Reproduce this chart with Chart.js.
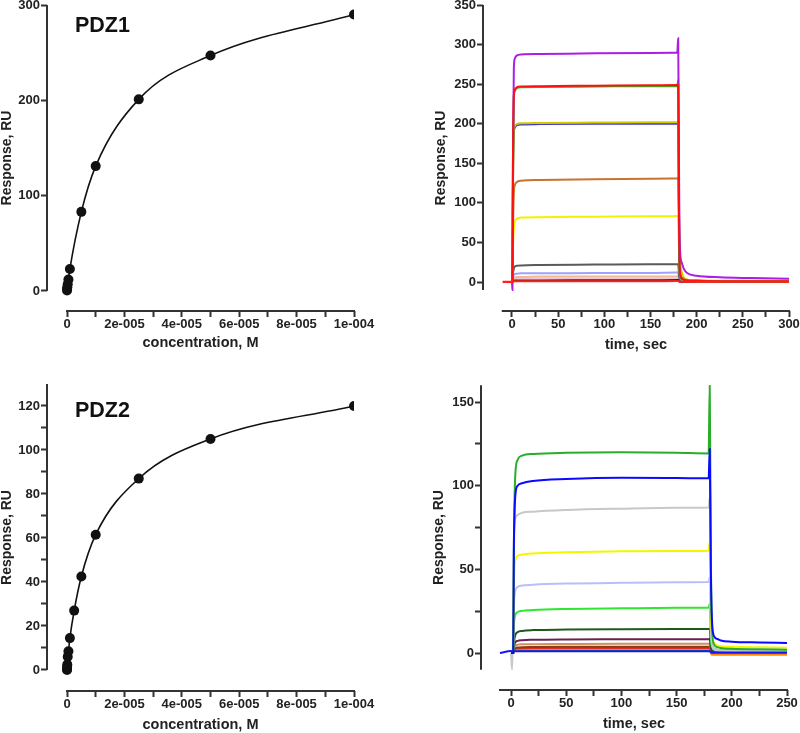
<!DOCTYPE html>
<html>
<head>
<meta charset="utf-8">
<title>PDZ1 / PDZ2 binding</title>
<script src="https://cdn.jsdelivr.net/npm/chart.js@4.4.1/dist/chart.umd.min.js"></script>
<style>
body{margin:0;background:#fff;}
#wrap{position:relative;width:800px;height:733px;font-family:"Liberation Sans",Arial,sans-serif;}
.panel{position:absolute;}
.panel canvas{display:block;}
.tag{position:absolute;font-weight:bold;font-size:21.5px;line-height:1;color:#111;}
</style>
</head>
<body>
<div id="wrap">
  <div class="panel" style="left:0;top:0"><canvas id="c1" width="400" height="366"></canvas></div>
  <div class="panel" style="left:400px;top:0"><canvas id="c2" width="400" height="366"></canvas></div>
  <div class="panel" style="left:0;top:366px"><canvas id="c3" width="400" height="367"></canvas></div>
  <div class="panel" style="left:400px;top:366px"><canvas id="c4" width="400" height="367"></canvas></div>
  <div class="tag" style="left:75px;top:15px">PDZ1</div>
  <div class="tag" style="left:75px;top:400px">PDZ2</div>
</div>
<script>
// binding curves (steady-state response vs concentration)
const pdz1Conc = [1e-8, 5e-8, 1e-7, 2.5e-7, 5e-7, 1e-6, 5e-6, 1e-5, 2.5e-5, 5e-5, 1e-4];
const pdz1Resp = [0.5, 2, 4, 7, 12, 23, 83, 131, 201, 247, 290];
const pdz2Conc = [1e-8, 2.5e-8, 5e-8, 1e-7, 2.5e-7, 5e-7, 1e-6, 2.5e-6, 5e-6, 1e-5, 2.5e-5, 5e-5, 1e-4];
const pdz2Resp = [0, 0.5, 1.5, 2.5, 6, 8.5, 14.5, 27, 42.5, 61.5, 87, 105, 120];

// tick values and labels
const concTicks = [0, 1e-5, 2e-5, 3e-5, 4e-5, 5e-5, 6e-5, 7e-5, 8e-5, 9e-5, 1e-4];
const concLabels = ['0', '', '2e-005', '', '4e-005', '', '6e-005', '', '8e-005', '', '1e-004'];
const pdz1RespTicks = [0, 100, 200, 300];
const pdz1RespLabels = ['0', '100', '200', '300'];
const pdz2RespTicks = [0, 10, 20, 30, 40, 50, 60, 70, 80, 90, 100, 110, 120];
const pdz2RespLabels = ['0', '', '20', '', '40', '', '60', '', '80', '', '100', '', '120'];
const time1Ticks = [0, 25, 50, 75, 100, 125, 150, 175, 200, 225, 250, 275, 300];
const time1Labels = ['0', '', '50', '', '100', '', '150', '', '200', '', '250', '', '300'];
const sens1Ticks = [0, 50, 100, 150, 200, 250, 300, 350];
const sens1Labels = ['0', '50', '100', '150', '200', '250', '300', '350'];
const time2Ticks = [0, 25, 50, 75, 100, 125, 150, 175, 200, 225, 250];
const time2Labels = ['0', '', '50', '', '100', '', '150', '', '200', '', '250'];
const sens2Ticks = [0, 25, 50, 75, 100, 125, 150];
const sens2Labels = ['0', '', '50', '', '100', '', '150'];

// PDZ1 sensorgrams
const t1 = [-10, 0, 0.5, 1, 2, 3, 5, 10, 30, 90, 150, 179, 180, 181, 182, 184, 186, 190, 200, 225, 260, 300];
const s1Purple = [null, 0, -10, 150, 270, 282, 286, 287.5, 288, 289, 289.5, 290, 308, 120, 40, 24, 17, 11, 8, 6, 5, 4];
const s1Red = [0, 0, 0, 140, 236, 243, 246, 247, 247.5, 248, 248.5, 249, 249, 60, 12, 5, 3, 2, 1.5, 1, 1, 1];
const s1Green = [null, 0, 0, 130, 232, 241, 244.5, 246, 246.5, 247, 247.5, 247.5, 255, 60, 12, 5, 3, 2, 1.5, 1, 1, 1];
const s1Olive = [null, 0, 0, 110, 190, 197, 199.5, 200.5, 201, 201.5, 202, 202, 203, 80, 30, 12, 6, 3, 2, 1.5, 1.5, 1.5];
const s1Blue = [null, 0, 0, 110, 188, 195, 198, 199, 199.5, 200, 200, 200, 200, 50, 10, 4, 2.5, 2, 1.5, 1, 1, 1];
const s1Brown = [null, 0, 0, 60, 112, 122, 126, 128, 129, 130, 130.5, 131, 132, 40, 10, 4, 2.5, 2, 1.5, 1, 1, 1];
const s1Yellow = [null, 0, 0, 40, 68, 76, 79.5, 81.5, 82, 82.5, 83, 83.5, 84, 30, 8, 3, 2, 1.5, 1, 1, 1, 1];
const s1Gray = [null, 0, 0, 10, 17, 19.5, 20.5, 21, 21.5, 22, 22.5, 22.5, 22.5, 8, 3, 2, 1.5, 1, 1, 1, 1, 1];
const s1LightBlue = [null, 0, 0, 5, 9, 10, 10.5, 11, 11, 11.5, 11.5, 12, 12, 4, 2, 1, 1, 1, 1, 1, 1, 1];
const s1Peach = [null, 0, 0, 3, 5, 6, 6.5, 6.5, 7, 7, 7, 7, 7, 3, 1.5, 1, 1, 1, 1, 1, 1, 1];
const s1Pink = [null, 0, 0, 2, 3.5, 4, 4.3, 4.4, 4.5, 4.5, 4.6, 4.6, 4.6, 2, 1, 1, 1, 1, 1, 1, 1, 1];
const s1Dark = [null, 0, 0, 1, 1.5, 2, 2, 2, 2, 2.2, 2.3, 2.5, 2.5, 1, 0.5, 0.5, 0.5, 0.5, 0.5, 0.5, 0.5, 0.5];
const s1RedLow = [0.3, 0.3, 0.3, 0.5, 0.8, 1, 1, 1, 1, 1, 1, 1.2, 1.2, 0.6, 0.4, 0.4, 0.4, 0.4, 0.4, 0.4, 0.4, 0.4];

// PDZ2 sensorgrams
const t2 = [-10, 0, 1, 2, 2.5, 3, 4, 6, 10, 20, 50, 100, 150, 179, 180, 181, 182, 184, 187, 190, 200, 225, 250];
const s2Green = [null, 0, 0, 0, 50, 85, 108, 115.5, 118, 119, 119.7, 120, 119.7, 119.3, 160, 60, 15, 5, 3.5, 3, 2.5, 2.2, 2];
const s2Blue = [null, 0, 0, 0, 60, 80, 95, 100, 101.5, 102.8, 104, 104.8, 104.6, 104.4, 122, 50, 20, 10, 8.4, 7.5, 6.8, 6.3, 6];
const s2Gray = [null, 0, -10, 20, 60, 75, 80.5, 82.5, 83.8, 84.5, 85.5, 86.3, 86.8, 87, 93, 30, 8, 3, 2, 1.5, 1.2, 1, 1];
const s2Yellow = [null, 0, 0, 0, 35, 50, 56, 58, 58.8, 59.5, 60.2, 60.8, 61, 61.2, 66.5, 25, 10, 6, 4.5, 4, 3.7, 3.4, 3.2];
const s2Lavender = [null, 0, 0, 0, 25, 33, 37.5, 39.5, 40.3, 40.8, 41.5, 42, 42.3, 42.4, 45.5, 15, 5, 2, 1.5, 1.3, 1.2, 1, 1];
const s2BrightGreen = [null, 0, 0, 0, 15, 20, 23, 24.5, 25.2, 25.7, 26.3, 26.7, 27, 27.1, 29.5, 10, 4, 2.5, 2, 1.8, 1.6, 1.5, 1.5];
const s2DarkGreen = [null, 0, 0, 0, 5, 8, 11, 12.5, 13.2, 13.7, 14, 14.2, 14.3, 14.3, 14.5, 5, 2, 1.2, 1, 1, 1, 1, 1];
const s2Maroon = [null, 0, 0, 0, 3, 5, 6.5, 7.3, 7.7, 7.9, 8.1, 8.2, 8.3, 8.3, 8.5, 3, 1, 0.5, 0.5, 0.5, 0.5, 0.5, 0.5];
const s2Tan = [null, 0, 0, 0, 2, 3.5, 4.5, 5, 5.2, 5.3, 5.4, 5.5, 5.5, 5.5, 5.5, 2, 0.5, 0.3, 0.3, 0.3, 0.3, 0.3, 0.3];
const s2Brown = [null, 0, 0, 0, 1.5, 2.5, 3, 3.3, 3.5, 3.6, 3.7, 3.8, 3.8, 3.8, 3.8, 1, 0, 0, 0, 0, 0, 0, 0];
const s2Red = [null, 0, 0, 0, 1, 2, 2.5, 2.8, 2.9, 3, 3, 3, 3, 3, 3, 1, 0.5, 0.5, 0.5, 0.5, 0.5, 0.5, 0.5];
const s2Orange = [null, 0, 0, 0, 0.8, 1.5, 1.9, 2.1, 2.2, 2.3, 2.4, 2.4, 2.4, 2.4, 2.4, 0, -1, -1, -1, -1, -1, -1, -1];
const s2GreenMid = [null, 0, 0, 0, 0.6, 1, 1.3, 1.5, 1.6, 1.7, 1.8, 1.8, 1.8, 1.8, 1.8, 0.8, 0.5, 0.5, 0.5, 0.5, 0.5, 0.5, 0.5];
const s2BlueLow = [0, 1.2, 1, 0.8, 0.9, 1, 1, 1, 1, 1, 1, 1, 1, 1, 1, 0.5, 0.3, 0.3, 0.3, 0.3, 0.3, 0.3, 0.3];

Chart.defaults.font.family = '"Liberation Sans", Arial, sans-serif';
Chart.defaults.font.weight = 'bold';
Chart.defaults.color = '#222';

// Prism style axes: lines only span the given data range
const offsetAxes = {
  id: 'offsetAxes',
  afterDatasetsDraw(chart, args, o) {
    const {ctx, chartArea: a, scales: {x, y}} = chart;
    ctx.save();
    ctx.strokeStyle = '#333';
    ctx.lineWidth = 2;
    ctx.beginPath();
    ctx.moveTo(a.left, y.getPixelForValue(o.yFrom));
    ctx.lineTo(a.left, y.getPixelForValue(o.yTo));
    ctx.moveTo(x.getPixelForValue(o.xFrom) - 1, a.bottom);
    ctx.lineTo(x.getPixelForValue(o.xTo) + 1, a.bottom);
    ctx.stroke();
    ctx.restore();
  }
};

function axis(o, horizontal) {
  return {
    type: 'linear',
    min: o.min,
    max: o.max,
    afterBuildTicks: s => { s.ticks = o.ticks.map(v => ({value: v})); },
    afterFit: s => { if (horizontal) s.height = o.size; else s.width = o.size; },
    border: {display: false},
    grid: {drawOnChartArea: false, drawTicks: true, tickLength: 6, tickWidth: 2, tickColor: '#333'},
    ticks: {
      autoSkip: false, maxRotation: 0, color: '#222',
      padding: horizontal ? 0 : 1,
      font: {size: 13, weight: 'bold', lineHeight: horizontal ? 1.2 : 0.6},
      callback: (v, i) => o.labels[i]
    },
    title: {display: true, text: o.title, padding: 0, color: '#222',
      font: {size: horizontal ? 14.5 : 14, weight: 'bold', lineHeight: 1}}
  };
}

function binding(conc, resp) {
  return [{
    data: conc.map((c, i) => ({x: c, y: resp[i]})),
    borderColor: '#111', backgroundColor: '#111',
    borderWidth: 1.6, pointRadius: 5, pointBorderWidth: 0,
    pointBackgroundColor: '#111',
    cubicInterpolationMode: 'monotone'
  }];
}

function trace(times, vals, color) {
  return {
    data: times.map((t, i) => ({x: t, y: vals[i]})),
    borderColor: color, borderWidth: 2, pointRadius: 0,
    cubicInterpolationMode: 'monotone', spanGaps: false
  };
}

function makeChart(id, p) {
  new Chart(document.getElementById(id), {
    type: 'line',
    data: {datasets: p.datasets},
    options: {
      responsive: false,
      animation: false,
      devicePixelRatio: 1,
      layout: {padding: p.pad},
      plugins: {legend: {display: false}, tooltip: {enabled: false}, offsetAxes: p.lines},
      scales: {x: axis(p.x, true), y: axis(p.y, false)}
    },
    plugins: [offsetAxes]
  });
}

makeChart('c1', {
  pad: {left: 0, top: 5, right: 46, bottom: 16},
  x: {min: -6.97e-6, max: 1e-4, ticks: concTicks, labels: concLabels, title: 'concentration, M', size: 39},
  y: {min: -21, max: 300, ticks: pdz1RespTicks, labels: pdz1RespLabels, title: 'Response, RU', size: 47},
  lines: {xFrom: 0, xTo: 1e-4, yFrom: 0, yTo: 300},
  datasets: binding(pdz1Conc, pdz1Resp)
});

makeChart('c2', {
  pad: {left: 34, top: 5, right: 11, bottom: 14},
  x: {min: -31.4, max: 300, ticks: time1Ticks, labels: time1Labels, title: 'time, sec', size: 41},
  y: {min: -36.6, max: 350, ticks: sens1Ticks, labels: sens1Labels, title: 'Response, RU', size: 49},
  lines: {xFrom: -10, xTo: 300, yFrom: -10, yTo: 350},
  datasets: [
    trace(t1, s1RedLow, '#ff2020'),
    trace(t1, s1Red, '#ff1010'),
    trace(t1, s1Purple, '#ac1ee6'),
    trace(t1, s1Green, '#20c020'),
    trace(t1, s1Olive, '#d8c800'),
    trace(t1, s1Blue, '#3c3cc8'),
    trace(t1, s1Brown, '#c8742c'),
    trace(t1, s1Yellow, '#f2f200'),
    trace(t1, s1Gray, '#5a5a5a'),
    trace(t1, s1Dark, '#3a1a1a'),
    trace(t1, s1LightBlue, '#a0a0ff'),
    trace(t1, s1Peach, '#f4b890'),
    trace(t1, s1Pink, '#e6c8d8')
  ]
});

makeChart('c3', {
  pad: {left: 0, top: 18, right: 46, bottom: 1},
  x: {min: -6.97e-6, max: 1e-4, ticks: concTicks, labels: concLabels, title: 'concentration, M', size: 41},
  y: {min: -9.55, max: 130, ticks: pdz2RespTicks, labels: pdz2RespLabels, title: 'Response, RU', size: 47},
  lines: {xFrom: 0, xTo: 1e-4, yFrom: 0, yTo: 130},
  datasets: binding(pdz2Conc, pdz2Resp)
});

makeChart('c4', {
  pad: {left: 32, top: 19, right: 13, bottom: 2},
  x: {min: -27.2, max: 250, ticks: time2Ticks, labels: time2Labels, title: 'time, sec', size: 41},
  y: {min: -22.1, max: 160.2, ticks: sens2Ticks, labels: sens2Labels, title: 'Response, RU', size: 49},
  lines: {xFrom: -10, xTo: 250, yFrom: -10, yTo: 160},
  datasets: [
    trace(t2, s2Blue, '#0a0aff'),
    trace(t2, s2Green, '#2aae2a'),
    trace(t2, s2BlueLow, '#1414ff'),
    trace(t2, s2Yellow, '#f5f500'),
    trace(t2, s2Gray, '#c8c8c8'),
    trace(t2, s2Lavender, '#bcbcf8'),
    trace(t2, s2BrightGreen, '#2ee82e'),
    trace(t2, s2DarkGreen, '#1e5a1e'),
    trace(t2, s2Maroon, '#6a2050'),
    trace(t2, s2Tan, '#d09060'),
    trace(t2, s2Brown, '#8c3c14'),
    trace(t2, s2Red, '#e03020'),
    trace(t2, s2Orange, '#ff8800'),
    trace(t2, s2GreenMid, '#10a010')
  ]
});
</script>
</body>
</html>
